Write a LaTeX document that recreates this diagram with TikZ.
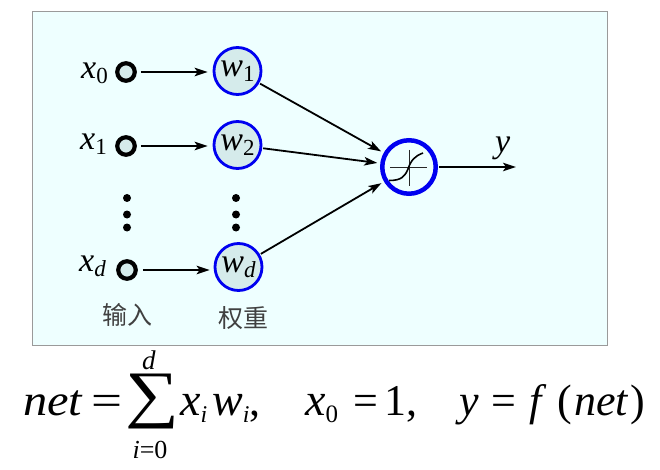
\documentclass[tikz,border=0pt]{standalone}
\usepackage{fontspec}
\usepackage{graphicx}
\setmainfont{Liberation Serif}
\newfontfamily\cjkfont{Noto Sans CJK SC}
\usetikzlibrary{arrows.meta}
\definecolor{panelbg}{HTML}{EEFFFF}
\definecolor{panelline}{HTML}{9A9A9A}
\definecolor{nodefill}{HTML}{D5EBEB}
\definecolor{ringblue}{HTML}{0000F0}
\newcommand{\symsub}[2]{\fontsize{34}{34}\selectfont\textit{#1}\raisebox{-5pt}{\fontsize{23}{23}\selectfont #2}}
\newcommand{\eqtext}[1]{\fontsize{44}{44}\selectfont #1}
\newcommand{\eqsub}[2]{\fontsize{46}{46}\selectfont\textit{#1}\raisebox{-7pt}{\fontsize{24}{24}\selectfont\textit{#2}}}
\tikzset{
  inputdot/.style={circle,draw=black,fill=nodefill,line width=4.2pt,minimum size=17.5pt,inner sep=0pt},
  weightnode/.style={circle,draw=ringblue,fill=nodefill,line width=2.8pt,minimum size=47pt,inner sep=0pt},
  sumnode/.style={circle,draw=ringblue,fill=panelbg,line width=4.5pt,minimum size=53.5pt,inner sep=0pt},
  flow/.style={draw=black,line width=1.8pt,-{Stealth[length=13pt,width=8.5pt,inset=3pt]}},
  vdot/.style={circle,fill=black,minimum size=8pt,inner sep=0pt},
  cjklabel/.style={font=\cjkfont\fontsize{25}{25}\selectfont,text=black!75,inner sep=0pt},
  eqpart/.style={anchor=base west,inner sep=0pt},
  symlabel/.style={anchor=base west,inner sep=0pt}
}
\begin{document}
\begin{tikzpicture}[x=1pt,y=-1pt]
\useasboundingbox (0,0) rectangle (660,470);
\fill[white] (0,0) rectangle (660,470);
\draw[draw=panelline,fill=panelbg,line width=1pt] (32,12) rectangle (607,345);

\node[inputdot] (i0) at (126,72) {};
\node[inputdot] (i1) at (126,146) {};
\node[inputdot] (id) at (127,270) {};
\node[weightnode] (w1) at (237.5,71) {\raisebox{3pt}{\symsub{w}{1}}};
\node[weightnode] (w2) at (237.5,145) {\raisebox{3pt}{\symsub{w}{2}}};
\node[weightnode] (wd) at (238.5,267) {\raisebox{3pt}{\symsub{w}{\textit{d}}}};
\node[sumnode] (f) at (409,167) {};

\node[symlabel] (lx0) at (81,79) {\symsub{x}{0}};
\node[symlabel] (lx1) at (80,150) {\symsub{x}{1}};
\node[symlabel] (lxd) at (79,271) {\symsub{x}{\textit{d}}};
\node[symlabel] (ly) at (495,153) {\fontsize{34}{34}\selectfont\textit{y}};

\coordinate (axl) at (390,167);
\coordinate (axr) at (427,167);
\coordinate (axt) at (409.5,150);
\coordinate (axb) at (409.5,186);
\draw[line width=0.7pt,black!85] (axl) -- (axr);
\draw[line width=0.7pt,black!85] (axt) -- (axb);
\coordinate (sa) at (389,180.5);
\coordinate (sm) at (408,169);
\coordinate (sb) at (423,153);
\draw[line width=1.6pt,black] (sa) .. controls (402,180.5) and (405,176) .. (sm) .. controls (411,160) and (415,156) .. (sb);

\draw[flow,shorten <=4pt,shorten >=5pt] (i0) -- (i0 -| w1.west);
\draw[flow,shorten <=4pt,shorten >=5pt] (i1) -- (i1 -| w2.west);
\draw[flow,shorten <=5pt,shorten >=4pt] (id) -- (id -| wd.west);
\draw[flow,shorten <=1pt,shorten >=3pt] (w1) -- (f);
\draw[flow,shorten <=1pt,shorten >=3pt] (w2) -- (f);
\draw[flow,shorten <=1pt,shorten >=3pt] (wd) -- (f);
\coordinate (yend) at (516,167);
\draw[flow,shorten <=1pt] (f) -- (yend);

\node[vdot] (l1) at (127,198) {};
\node[vdot] (l2) at (127,214.5) {};
\node[vdot] (l3) at (127,227.5) {};
\node[vdot] (r1) at (236,198) {};
\node[vdot] (r2) at (236,214.5) {};
\node[vdot] (r3) at (236,227.5) {};

\node[cjklabel] (tin) at (127,315) {输入};
\node[cjklabel] (twt) at (243,318) {权重};

\node[eqpart] (e1) at (23,415) {\eqtext{\scalebox{1.1}[1]{\textit{net}}}};
\node[eqpart] (e2) at (91,415) {\eqtext{\scalebox{1.25}[1]{=}}};
\node[eqpart] (e3) at (125,415) {\fontsize{72}{72}\selectfont\scalebox{1.05}[0.88]{∑}};
\node[anchor=base,inner sep=0pt] (e4) at (149,369) {\fontsize{27}{27}\selectfont\textit{d}};
\node[anchor=base,inner sep=0pt] (e5) at (150,458) {\fontsize{26}{26}\selectfont\textit{i}=0};
\node[eqpart] (e6) at (180,415) {\eqsub{x}{i}};
\node[eqpart] (e7) at (212,415) {\eqsub{w}{i}};
\node[eqpart] (e7c) at (249,415) {\eqtext{,}};
\node[eqpart] (e8) at (305,415) {\fontsize{46}{46}\selectfont\textit{x}\raisebox{-7pt}{\fontsize{25}{25}\selectfont 0}};
\node[eqpart] (e9) at (353,415) {\eqtext{=}};
\node[eqpart] (e9b) at (384,415) {\eqtext{1,}};
\node[eqpart] (e10) at (459,415) {\eqtext{\textit{y}}};
\node[eqpart] (e11) at (491,415) {\eqtext{=}};
\node[eqpart] (e12) at (529,415) {\eqtext{\textit{f}}};
\node[eqpart] (e13) at (557,415) {\eqtext{(}};
\node[eqpart] (e14) at (574,415) {\eqtext{\textit{net}}};
\node[eqpart] (e15) at (630,415) {\eqtext{)}};
\end{tikzpicture}
\end{document}
